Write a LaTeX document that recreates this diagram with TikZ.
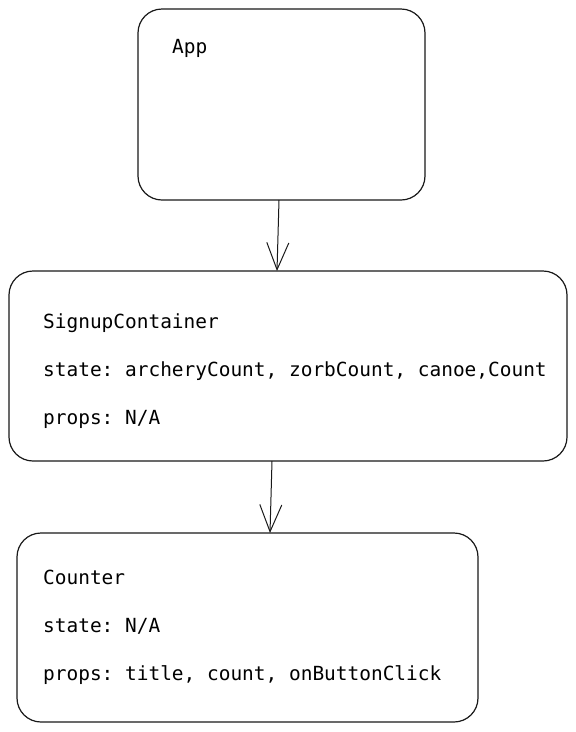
\documentclass[tikz,border=0pt]{standalone}
\usepackage{fontspec}
\setmonofont{DejaVu Sans Mono}
\usetikzlibrary{arrows.meta}
\begin{document}
\begin{tikzpicture}[x=1pt,y=-1pt,
  box/.style={draw=black!90, line width=1.2pt, rounded corners=24pt},
  lbl/.style={anchor=base west, inner sep=0pt, font=\ttfamily\fontsize{19.45}{23}\selectfont, text=black},
  conn/.style={draw=black!90, line width=1pt, -{Straight Barb[length=27pt,width=22pt,line width=1pt]}}]
\useasboundingbox (0,0) rectangle (576,732);
% boxes
\draw[box] (138,9) rectangle (425,200);
\draw[box] (9,271) rectangle (567,461);
\draw[box] (17,533) rectangle (478,722);
\coordinate (a1) at (279,200);
\coordinate (a2) at (277,271);
\coordinate (b1) at (272,461);
\coordinate (b2) at (270,533);
\draw[conn] (a1) -- (a2);
\draw[conn] (b1) -- (b2);
% labels
\node[lbl] (app) at (172,53) {App};
\node[lbl] (sc) at (43,328) {SignupContainer};
\node[lbl] (scs) at (43,376) {state: archeryCount, zorbCount, canoe,Count};
\node[lbl] (scp) at (43,424) {props: N/A};
\node[lbl] (ct) at (43,584) {Counter};
\node[lbl] (cts) at (43,632) {state: N/A};
\node[lbl] (ctp) at (43,680) {props: title, count, onButtonClick};
\end{tikzpicture}
\end{document}
